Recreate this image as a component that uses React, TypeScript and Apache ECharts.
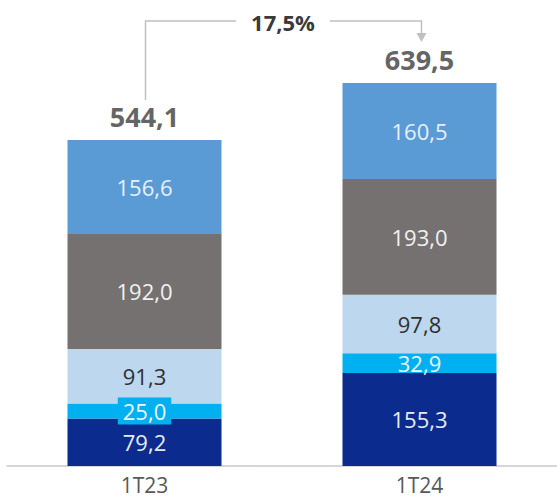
import React, { useEffect, useRef } from "react";
import * as echarts from "echarts";

const categories = ["1T23", "1T24"];
const navyValues = [79.2, 155.3];
const cyanValues = [25.0, 32.9];
const lightValues = [91.3, 97.8];
const grayValues = [192.0, 193.0];
const blueValues = [156.6, 160.5];
const totals = [544.1, 639.5];
const growthLabel = "17,5%";

const FONT = "'Open Sans', 'Segoe UI', sans-serif";
const fmt = (v: number) => v.toFixed(1).replace(".", ",");

export default function App() {
  const ref = useRef<HTMLDivElement>(null);
  useEffect(() => {
    if (!ref.current) return;
    const chart = echarts.init(ref.current, null, { renderer: "svg" });
    const segLabel = (color: string) => ({
      show: true,
      position: "inside" as const,
      color,
      fontFamily: FONT,
      fontSize: 22,
      formatter: (p: any) => fmt(p.value as number),
    });
    const mk = (name: string, data: any[], color: string, textColor: string) => ({
      name,
      type: "bar",
      stack: "total",
      barWidth: 154,
      data,
      itemStyle: { color },
      label: segLabel(textColor),
    });
    const option: any = {
      animation: false,
      grid: { left: 7, width: 552, top: 0, bottom: 36 },
      xAxis: {
        type: "category",
        data: categories,
        axisLine: { show: true, lineStyle: { color: "#c8c8c8", width: 1.5 } },
        axisTick: { show: false },
        axisLabel: { color: "#595959", fontSize: 21, fontFamily: FONT, margin: 8 },
      },
      yAxis: { type: "value", min: 0, max: 778, show: false, splitLine: { show: false } },
      series: [
        mk("A", navyValues, "#0c2b8e", "#e8ebf5"),
        mk(
          "B",
          [
            { value: cyanValues[0], label: { backgroundColor: "#00b0f0", padding: [3, 5, 2, 5] } },
            cyanValues[1],
          ],
          "#00b0f0",
          "#eef6fb"
        ),
        mk("C", lightValues, "#bdd7ee", "#2f2f2f"),
        mk("D", grayValues, "#767171", "#f2f2f2"),
        mk("E", blueValues, "#5b9bd5", "#e6f0fa"),
        {
          name: "Total",
          type: "scatter",
          data: totals,
          symbolSize: 0,
          itemStyle: { color: "transparent" },
          label: {
            show: true,
            position: "top",
            distance: 10,
            color: "#3a3a3a",
            fontFamily: FONT,
            fontSize: 27,
            fontWeight: "bold",
            formatter: (p: any) => fmt(totals[p.dataIndex]),
          },
        },
      ],
    };
    chart.setOption(option);

    const x0 = chart.convertToPixel({ xAxisIndex: 0 }, categories[0]) as number;
    const x1 = chart.convertToPixel({ xAxisIndex: 0 }, categories[1]) as number;
    const y0 = chart.convertToPixel({ yAxisIndex: 0 }, totals[0]) as number;
    const y1 = chart.convertToPixel({ yAxisIndex: 0 }, totals[1]) as number;
    const yH = 21;
    const midX = (x0 + x1) / 2 + 1;
    const gap = 47;
    const lx = x0 + 1;
    const rx = x1 + 2;
    const tip = y1 - 41;
    const lineStyle = { stroke: "#c0c0c0", lineWidth: 1.5, fill: null };
    chart.setOption({
      graphic: [
        {
          type: "polyline",
          shape: { points: [[midX - gap, yH], [lx, yH], [lx, y0 - 40]] },
          style: lineStyle,
        },
        {
          type: "polyline",
          shape: { points: [[midX + gap, yH], [rx, yH], [rx, tip - 8]] },
          style: lineStyle,
        },
        {
          type: "polygon",
          shape: { points: [[rx - 5, tip - 9], [rx + 5, tip - 9], [rx, tip]] },
          style: { fill: "#c0c0c0" },
        },
        {
          type: "text",
          x: midX,
          y: yH + 1,
          style: {
            text: growthLabel,
            align: "center",
            verticalAlign: "middle",
            fill: "#3a3a3a",
            font: `bold 22px ${FONT}`,
          },
        },
      ],
    });
    return () => chart.dispose();
  }, []);
  return (
    <div
      ref={ref}
      style={{ position: "fixed", left: 0, top: 0, width: 557, height: 502, background: "#fff" }}
    />
  );
}
